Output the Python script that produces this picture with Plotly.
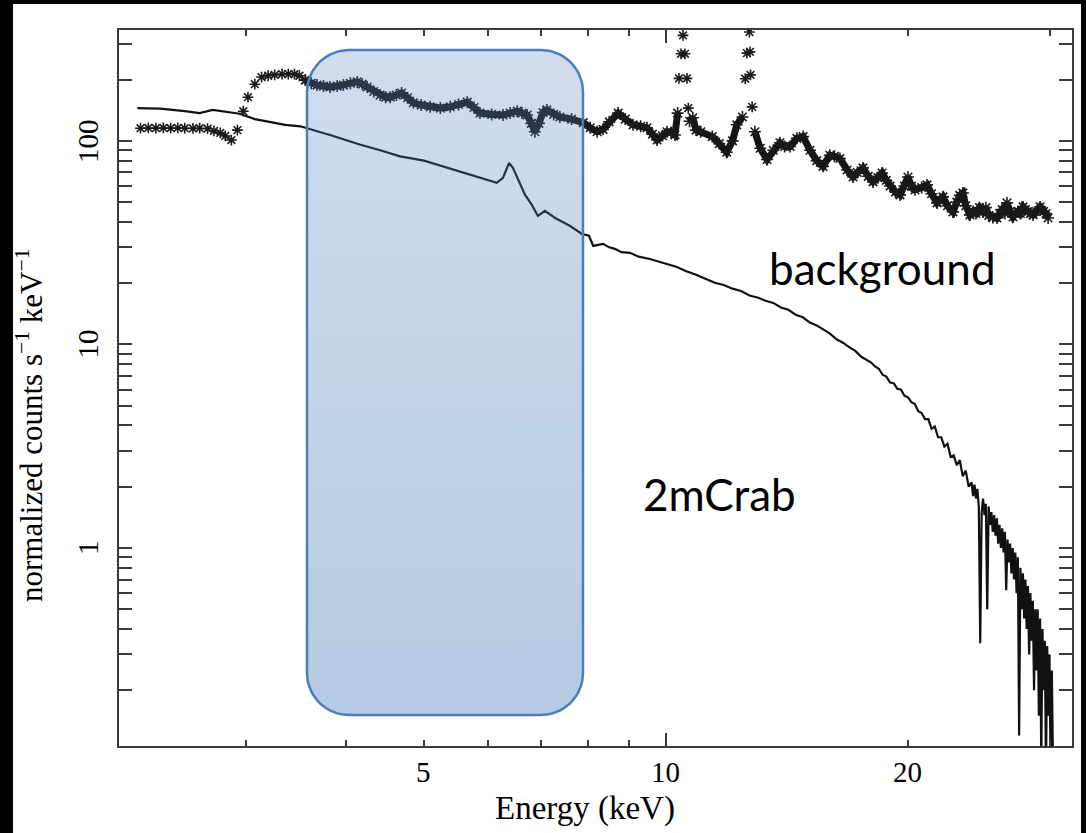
import numpy as np
import plotly.graph_objects as go

# ---- 2mCrab source spectrum (keV, normalized counts s^-1 keV^-1) ----
src_energy = [
    2.20, 2.35, 2.52, 2.63, 2.73, 2.85, 2.95, 3.08, 3.22, 3.36,
    3.51, 3.58, 3.70, 3.82, 3.99, 4.16, 4.41, 4.67, 5.00, 5.31,
    5.62, 5.95, 6.16, 6.27, 6.38, 6.45, 6.55, 6.68, 6.81, 6.93,
    7.07, 7.28, 7.60, 7.86, 8.02, 8.12, 8.35, 8.50, 8.64, 8.80,
    9.02, 9.25, 9.55, 9.80, 10.0, 10.3, 10.6, 10.9, 11.2, 11.5,
    11.8, 12.1, 12.4, 12.7, 13.0, 13.3, 13.6, 13.9, 14.2, 14.5,
    14.8, 15.1, 15.4, 15.7, 16.0, 16.3, 16.6, 16.9, 17.2, 17.5,
    17.8, 18.0, 18.2, 18.4, 18.6, 18.8, 19.0, 19.2, 19.4, 19.6,
    19.8, 20.0, 20.2, 20.4, 20.6, 20.8, 21.0, 21.2, 21.4, 21.6,
    21.8, 22.0, 22.2, 22.4, 22.6, 22.8, 23.0, 23.2, 23.4, 23.6,
    23.8, 24.0, 24.1, 24.2, 24.3, 24.4, 24.5, 24.6, 24.7, 24.8,
    24.9, 25.0, 25.1, 25.2, 25.3, 25.4, 25.5, 25.6, 25.7, 25.8,
    25.9, 26.0, 26.1, 26.2, 26.3, 26.4, 26.5, 26.6, 26.7, 26.8,
    26.9, 27.0, 27.1, 27.2, 27.3, 27.4, 27.5, 27.6, 27.7, 27.8,
    27.9, 28.0, 28.1, 28.2, 28.3, 28.4, 28.5, 28.6, 28.7, 28.8,
    28.9, 29.0, 29.1, 29.2, 29.3, 29.4, 29.5, 29.6, 29.7, 29.8,
    29.9, 30.0, 30.1, 30.2, 30.3,
]
src_counts = [
    145, 144, 140, 137, 142, 139, 136, 128, 124, 120,
    118, 115, 111, 107, 101, 96, 90, 84, 80, 74.5,
    69.6, 65.1, 62.2, 65.8, 78, 73.7, 64.3, 54.3, 48.5, 42.8,
    45.3, 41.8, 38.2, 34.9, 34.2, 30.5, 31.2, 30.0, 29.5, 28.4,
    28.2, 27.0, 26.3, 25.4, 24.9, 24.1, 22.9, 22.0, 21.1, 20.1,
    19.6, 18.8, 18.3, 17.4, 17.0, 16.4, 16.0, 15.2, 14.8, 14.0,
    13.6, 12.8, 12.4, 11.8, 11.3, 10.6, 10.2, 9.7, 9.3, 8.7,
    8.35, 8.15, 7.8, 7.6, 7.1, 6.95, 6.5, 6.45, 6.05, 6.0,
    5.6, 5.5, 5.2, 5.1, 4.7, 4.6, 4.3, 4.3, 3.85, 3.95,
    3.5, 3.5, 3.15, 3.25, 2.8, 2.85, 2.55, 2.7, 2.25, 2.4,
    2.0, 2.1, 1.8, 2.05, 1.75, 1.95, 1.6, 0.34, 1.5, 1.75,
    1.45, 1.65, 0.5, 1.6, 1.3, 1.5, 1.2, 1.45, 1.15, 1.4,
    1.05, 1.3, 1.0, 1.25, 0.95, 1.2, 0.62, 1.1, 0.85, 1.05,
    0.75, 1.0, 0.7, 0.95, 0.6, 0.9, 0.12, 0.8, 0.5, 0.75,
    0.45, 0.7, 0.4, 0.65, 0.3, 0.6, 0.35, 0.55, 0.2, 0.5,
    0.25, 0.5, 0.15, 0.45, 0.09, 0.4, 0.2, 0.35, 0.08, 0.33,
    0.15, 0.3, 0.07, 0.25, 0.09,
]

# ---- background: separate low-energy channels ----
bkg_low_energy = [
    2.22, 2.27, 2.32, 2.37, 2.42, 2.47, 2.52, 2.58, 2.63, 2.69,
    2.74, 2.79, 2.83, 2.88, 2.93, 2.98, 3.02, 3.08, 3.14, 3.20,
    3.26, 3.33, 3.39, 3.45, 3.50, 3.56,
]
bkg_low_counts = [
    115.5, 115.8, 115.5, 115.8, 115.5, 115.8, 115.5, 115.2, 115.5, 114.8,
    112, 109.5, 105.8, 101, 113, 140, 164, 190, 206, 209,
    211, 213, 213, 213, 209, 199,
]

# ---- background band above 3.5 keV (None = break at the line spikes) ----
bkg_energy = [
    3.56, 3.62, 3.68, 3.75, 3.82, 3.90, 3.97, 4.05, 4.13, 4.19,
    4.25, 4.33, 4.41, 4.48, 4.54, 4.62, 4.69, 4.77, 4.85, 4.96,
    5.09, 5.24, 5.39, 5.52, 5.66, 5.77, 5.87, 6.07, 6.27, 6.40,
    6.53, 6.62, 6.72, 6.80, 6.87, 6.95, 7.03, 7.11, 7.25, 7.38,
    7.63, 7.89, 8.05, 8.21, 8.35, 8.50, 8.72, 8.90, 9.10, 9.30,
    9.47, 9.62, 9.75, 9.90, 10.03, 10.15, 10.26, 10.34, 10.50, 10.70,
    10.80, 10.90, 11.05, 11.42, 11.65, 11.90, 12.10, 12.25, 12.45, 12.70,
    12.90, 13.10, 13.36, 13.60, 13.86, 14.05, 14.27, 14.55, 14.81, 15.11,
    15.40, 15.68, 15.99, 16.20, 16.46, 16.80, 17.09, 17.30, 17.58, 17.85,
    18.10, 18.35, 18.57, 18.80, 19.00, 19.30, 19.55, 19.80, 20.00, 20.20,
    20.41, 20.80, 21.12, 21.40, 21.74, 21.90, 22.11, 22.40, 22.75, 23.00,
    23.20, 23.41, 23.60, 23.89, 24.10, 24.30, 24.55, 24.80, 25.00, 25.20,
    25.50, 25.81, 26.00, 26.20, 26.40, 26.56, 26.80, 27.02, 27.20, 27.40,
    27.60, 27.81, 28.00, 28.20, 28.40, 28.62, 28.90, 29.20, 29.50, 29.70,
    29.88,
]
bkg_counts = [
    199, 192, 188, 186, 184, 186, 188, 192, 195, 190,
    184, 175, 168, 164, 164, 168, 172, 163, 154, 150,
    147, 145, 147, 151, 155, 146, 137, 135, 134, 137,
    140, 137, 134, 122, 111, 122, 138, 142, 135, 131,
    128, 123, 116, 111, 114, 124, 137, 128, 120, 118,
    116, 108, 101, 106, 111, 110, 107, 137, None, 125,
    130, 113, 111, 105, 97, 88, 100, 120, 131, None,
    111, 92, 81, 90, 98, 94, 94, 103, 105, 90,
    80, 75, 85, 84, 82, 72, 66.5, 70, 73.7, 67,
    62.9, 66, 69.6, 64, 60, 56, 54.3, 60, 66.5, 60,
    57.5, 59, 60.8, 55, 49.6, 51, 53.1, 48, 44.8, 50,
    54, 55.5, 48, 43.3, 45, 44, 47, 44.8, 47, 43,
    42, 41.8, 44, 46, 44, 49.6, 45, 42.3, 44, 45,
    44, 47.4, 46, 45, 44, 43.3, 45, 47.4, 45, 44,
    41.8,
]

# ---- background line spikes near 10.5 and 12.7 keV ----
bkg_spike_energy = [10.38, 10.44, 10.50, 10.56, 10.62, 10.66,
                    12.55, 12.61, 12.70, 12.72, 12.74, 12.80]
bkg_spike_counts = [203, 268, 330, 268, 203, 145,
                    202, 270, 343, 274, 211, 147]

# ---- axis ticks ----
x_tick_vals = [5, 10, 20]
x_tick_text = ["5", "10", "20"]
x_minor_vals = [3, 4, 6, 7, 8, 9, 30]
y_tick_vals = [1, 10, 100]
y_tick_text = ["1", "10", "100"]
y_minor_vals = [m * d for d in (0.1, 1, 10, 100) for m in range(2, 10)]

x_title = "Energy (keV)"
y_title = "normalized counts s<sup>\u22121</sup> keV<sup>\u22121</sup>"
labels_text = ["background", "2mCrab"]

# ---- page geometry ----
FIG_W, FIG_H = 1086, 833
M_L, M_R, M_T, M_B = 119, 14, 30, 87
PLOT_W, PLOT_H = FIG_W - M_L - M_R, FIG_H - M_T - M_B

X_RANGE = [0.3196, 1.5051]
Y_RANGE = [-0.973, 2.545]

SERIF = "Liberation Serif, Times New Roman, serif"
SANS = "Lato, Open Sans, sans-serif"
AXIS_COLOR = "#3a3a3a"


def px_x(px):
    """Horizontal page pixel -> plot-area fraction."""
    return (px - M_L) / PLOT_W


def px_y(py):
    """Vertical page pixel -> plot-area fraction."""
    return (FIG_H - M_B - py) / PLOT_H


def frac_x(v):
    """Energy value -> plot-area fraction on the log x axis."""
    return (np.log10(v) - X_RANGE[0]) / (X_RANGE[1] - X_RANGE[0])


def frac_y(v):
    """Count value -> plot-area fraction on the log y axis."""
    return (np.log10(v) - Y_RANGE[0]) / (Y_RANGE[1] - Y_RANGE[0])


def rounded_rect(x0, x1, y0, y1, r_px, n=18):
    """Closed outline of a rounded rectangle in plot-fraction units."""
    rx, ry = r_px / PLOT_W, r_px / PLOT_H
    corners = [(x1 - rx, y1 - ry, 0), (x0 + rx, y1 - ry, 90),
               (x0 + rx, y0 + ry, 180), (x1 - rx, y0 + ry, 270)]
    xs, ys = [], []
    for cx, cy, a0 in corners:
        t = np.radians(np.linspace(a0, a0 + 90, n))
        xs += list(cx + rx * np.cos(t))
        ys += list(cy + ry * np.sin(t))
    xs.append(xs[0])
    ys.append(ys[0])
    return xs, ys


fig = go.Figure()

# source spectrum
fig.add_trace(go.Scatter(
    x=src_energy, y=src_counts, mode="lines",
    line=dict(color="#111111", width=2.2),
    hoverinfo="skip", showlegend=False,
))

# background
star = dict(symbol="asterisk-open", size=9, color="#1a1a1a",
            line=dict(color="#1a1a1a", width=1.6))
fig.add_trace(go.Scatter(
    x=bkg_low_energy, y=bkg_low_counts, mode="markers",
    marker=star, hoverinfo="skip", showlegend=False,
))
fig.add_trace(go.Scatter(
    x=bkg_energy, y=bkg_counts, mode="lines+markers",
    line=dict(color="#141414", width=7), connectgaps=False,
    marker=dict(star, size=10), hoverinfo="skip", showlegend=False,
))
fig.add_trace(go.Scatter(
    x=bkg_spike_energy, y=bkg_spike_counts, mode="markers",
    marker=star, hoverinfo="skip", showlegend=False,
))

# highlighted energy band: translucent rounded box with vertical gradient
bx, by = rounded_rect(px_x(307), px_x(583), px_y(715), px_y(50), 42)
fig.add_trace(go.Scatter(
    x=bx, y=by, xaxis="x2", yaxis="y2", mode="lines",
    fill="toself",
    fillgradient=dict(type="vertical", colorscale=[
        [0.0, "rgba(79,129,189,0.42)"],
        [1.0, "rgba(79,129,189,0.27)"],
    ]),
    line=dict(color="#4a7ebb", width=2.5),
    hoverinfo="skip", showlegend=False,
))

# long tick at 10 keV
fig.add_trace(go.Scatter(x=[10], y=[1], xaxis="x3", mode="markers",
                         marker=dict(opacity=0), hoverinfo="skip",
                         showlegend=False))

tick_font = dict(family=SERIF, size=29, color="black")
annotations = [
    # y tick labels, rotated like the axis title
    *[dict(text=t, xref="paper", yref="paper", x=px_x(88), y=frac_y(v),
           textangle=-90, showarrow=False, xanchor="center",
           yanchor="middle", font=tick_font)
      for v, t in zip(y_tick_vals, y_tick_text)],
    # x tick labels
    *[dict(text=t, xref="paper", yref="paper", x=frac_x(v), y=px_y(772),
           showarrow=False, xanchor="center", yanchor="middle",
           font=tick_font)
      for v, t in zip(x_tick_vals, x_tick_text)],
    dict(text=x_title, xref="paper", yref="paper", x=px_x(585),
         y=px_y(809), showarrow=False, xanchor="center", yanchor="middle",
         font=dict(family=SERIF, size=33, color="black")),
    dict(text=y_title, xref="paper", yref="paper", x=px_x(29),
         y=px_y(425), textangle=-90, showarrow=False, xanchor="center",
         yanchor="middle", font=dict(family=SERIF, size=31, color="black")),
    dict(text=labels_text[0], xref="paper", yref="paper", x=px_x(882),
         y=px_y(268), showarrow=False, xanchor="center", yanchor="middle",
         font=dict(family=SANS, size=44, color="black")),
    dict(text=labels_text[1], xref="paper", yref="paper", x=px_x(719),
         y=px_y(494), showarrow=False, xanchor="center", yanchor="middle",
         font=dict(family=SANS, size=44, color="black")),
]

fig.update_layout(
    width=FIG_W, height=FIG_H,
    margin=dict(l=M_L, r=M_R, t=M_T, b=M_B),
    paper_bgcolor="black", plot_bgcolor="white",
    shapes=[dict(type="rect", xref="paper", yref="paper",
                 x0=px_x(13), x1=px_x(1081), y0=px_y(FIG_H + 10),
                 y1=px_y(4), fillcolor="white", line_width=0,
                 layer="below")],
    xaxis=dict(
        type="log", range=X_RANGE,
        tickvals=x_tick_vals, ticktext=x_tick_text, showticklabels=False,
        ticks="inside", ticklen=6, tickwidth=1.5, tickcolor=AXIS_COLOR,
        minor=dict(tickvals=x_minor_vals, ticks="inside", ticklen=6,
                   tickwidth=1.5, tickcolor=AXIS_COLOR),
        showline=True, linecolor=AXIS_COLOR, linewidth=2, mirror="allticks",
        showgrid=False, zeroline=False,
    ),
    yaxis=dict(
        type="log", range=Y_RANGE,
        tickvals=y_tick_vals, ticktext=y_tick_text, showticklabels=False,
        ticks="inside", ticklen=13, tickwidth=1.5, tickcolor=AXIS_COLOR,
        minor=dict(tickvals=y_minor_vals, ticks="inside", ticklen=7,
                   tickwidth=1.5, tickcolor=AXIS_COLOR),
        showline=True, linecolor=AXIS_COLOR, linewidth=2, mirror="allticks",
        showgrid=False, zeroline=False,
    ),
    xaxis2=dict(overlaying="x", anchor="y2", range=[0, 1], visible=False,
                fixedrange=True),
    yaxis2=dict(overlaying="y", anchor="x2", range=[0, 1], visible=False,
                fixedrange=True),
    xaxis3=dict(overlaying="x", anchor="y", type="log", range=X_RANGE,
                tickvals=[10], ticks="inside", ticklen=13, tickwidth=1.5,
                tickcolor=AXIS_COLOR, mirror="ticks", showticklabels=False,
                showline=False, showgrid=False, zeroline=False),
    annotations=annotations,
)

fig.write_html("out.html")
